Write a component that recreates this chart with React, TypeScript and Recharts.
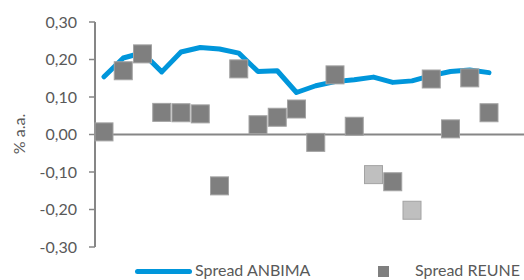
import { ComposedChart, Line, Scatter, XAxis, YAxis, ReferenceLine } from 'recharts';

const categories = ['1', '2', '3', '4', '5', '6', '7', '8', '9', '10', '11', '12', '13', '14', '15', '16', '17', '18', '19', '20', '21'];
const anbima = [0.154, 0.204, 0.218, 0.167, 0.22, 0.232, 0.228, 0.217, 0.168, 0.17, 0.112, 0.13, 0.141, 0.146, 0.153, 0.139, 0.143, 0.157, 0.168, 0.172, 0.165];
const reune = [0.007, 0.17, 0.215, 0.059, 0.058, 0.055, -0.137, 0.175, 0.026, 0.046, 0.068, -0.021, 0.159, 0.022, null, -0.126, null, 0.148, 0.015, 0.151, 0.058];
const reuneLight = [null, null, null, null, null, null, null, null, null, null, null, null, null, null, -0.107, null, -0.202, null, null, null, null];
const yTicks = [-0.3, -0.2, -0.1, 0, 0.1, 0.2, 0.3];

const AXIS = '#868686';
const TEXT = '#595959';
const BLUE = '#0096DB';
const FONT = 'Lato, sans-serif';

const data = categories.map((c, i) => ({
  cat: c,
  anbima: anbima[i],
  reune: reune[i],
  reuneLight: reuneLight[i],
}));

const square = (fill: string) => (props: any) => {
  const { cx, cy } = props;
  if (cx == null || cy == null || isNaN(cy)) return <g />;
  return <rect x={cx - 9} y={cy - 9} width={18} height={18} fill={fill} stroke="#a3a3a3" strokeWidth={1} />;
};

export default function App() {
  return (
    <div style={{ position: 'absolute', left: 0, top: 0, width: 524, height: 280, fontFamily: FONT }}>
      <ComposedChart width={524} height={280} data={data} margin={{ top: 22, right: 0, bottom: 33, left: 0 }}>
        <XAxis dataKey="cat" hide padding={{ left: 9, right: 35 }} />
        <YAxis
          domain={[-0.3, 0.3]}
          ticks={yTicks}
          width={95}
          tickSize={6}
          tickMargin={12}
          axisLine={{ stroke: AXIS, strokeWidth: 2 }}
          tickLine={{ stroke: AXIS, strokeWidth: 1.5 }}
          tick={{ fill: TEXT, fontSize: 16, fontFamily: FONT }}
          tickFormatter={(v: number) => v.toFixed(2).replace('.', ',')}
          label={{
            content: () => (
              <text transform="translate(18,134) rotate(-90)" textAnchor="middle" dominantBaseline="central" fill={TEXT} fontSize={16} fontFamily={FONT}>
                % a.a.
              </text>
            ),
          }}
        />
        <ReferenceLine y={0} stroke={AXIS} strokeWidth={2} />
        <Line type="linear" dataKey="anbima" stroke={BLUE} strokeWidth={5} dot={false} strokeLinecap="round" strokeLinejoin="round" isAnimationActive={false} />
        <Scatter dataKey="reune" shape={square('#7f7f7f')} isAnimationActive={false} />
        <Scatter dataKey="reuneLight" shape={square('#bfbfbf')} isAnimationActive={false} />
      </ComposedChart>
      <div style={{ position: 'absolute', left: 0, top: 258, width: 524, height: 22, color: TEXT, fontSize: 16 }}>
        <div style={{ position: 'absolute', left: 135, top: 11, width: 57, height: 5, borderRadius: 3, background: BLUE }} />
        <span style={{ position: 'absolute', left: 195, top: 3, lineHeight: '18px', whiteSpace: 'nowrap' }}>Spread ANBIMA</span>
        <div style={{ position: 'absolute', left: 378, top: 8, width: 11, height: 11, background: '#7f7f7f' }} />
        <span style={{ position: 'absolute', left: 415, top: 3, lineHeight: '18px', whiteSpace: 'nowrap' }}>Spread REUNE</span>
      </div>
    </div>
  );
}
